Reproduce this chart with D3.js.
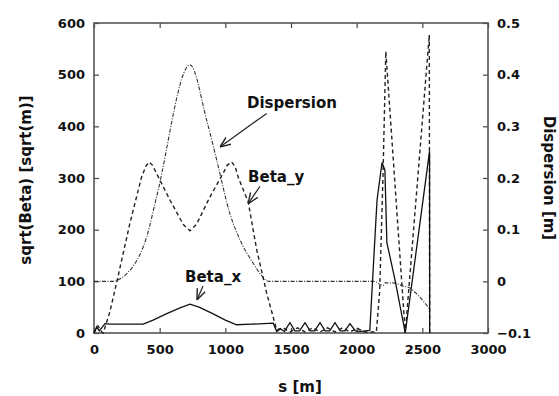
<!DOCTYPE html>
<head>
<meta charset="utf-8">
<script src="https://d3js.org/d3.v7.min.js"></script>
<style>
  body { margin: 0; background: #fff; }
  text { font-family: 'DejaVu Sans', sans-serif; fill: #111; }
</style>
</head>
<body>
<div id="vis"></div>
<script>
// lattice functions along s [m]
const sBetaX = [0, 20, 40, 84, 120, 375, 450, 550, 650, 731, 800, 900, 1000, 1086, 1200, 1365, 1391,
  1420, 1450, 1492, 1530, 1565, 1607, 1645, 1680, 1721, 1760, 1795, 1835, 1875, 1910, 1949, 1990, 2030, 2100,
  2155, 2193, 2215, 2230, 2292, 2370, 2555, 2556]
const betaX = [0, 12, 4, 18, 17, 17, 25, 37, 48, 56, 50, 38, 25, 16, 17, 19, 3,
  8, 3, 20, 4, 4, 20, 4, 4, 20, 4, 4, 20, 4, 4, 18, 4, 3, 5,
  257, 330, 315, 175, 103, 0, 352, 0]

const sBetaY = [0, 30, 60, 70, 120, 172, 274, 360, 395, 420, 445, 470, 579, 680, 731, 780, 880, 983, 1015, 1048, 1075,
  1100, 1174, 1239, 1315, 1391,
  1440, 1492, 1550, 1607, 1664, 1721, 1778, 1835, 1892, 1949, 2006, 2060, 2150, 2175, 2200, 2222, 2370, 2553, 2556]
const betaY = [0, 14, 2, 0, 40, 97, 213, 300, 323, 331, 325, 312, 257, 210, 198, 210, 262, 309, 325, 331, 322,
  300, 254, 161, 77, 6,
  10, 2, 10, 2, 10, 2, 10, 2, 10, 2, 9, 2, 2, 80, 300, 545, 0, 577, 0]

const sDisp = [0, 150, 200, 250, 300, 350, 401, 477, 731, 858, 934, 1036, 1112, 1212, 1280, 1330,
  2130, 2200, 2216, 2277, 2353, 2406, 2460, 2555]
const disp = [0, 0, 0.005, 0.015, 0.03, 0.052, 0.086, 0.164, 0.419, 0.312, 0.235, 0.13, 0.08, 0.035, 0.01, 0,
  0, -0.008, -0.003, -0.003, -0.009, -0.013, -0.025, -0.053]

const sTicks = [0, 500, 1000, 1500, 2000, 2500, 3000]
const betaTicks = [0, 100, 200, 300, 400, 500, 600]
const dispTicks = [-0.1, 0, 0.1, 0.2, 0.3, 0.4, 0.5]

// annotations: label, text anchor (s, beta), arrow from / to (s, beta)
const notes = [
  { label: 'Dispersion', at: [1165, 435], from: [1315, 425], to: [959, 360] },
  { label: 'Beta_y', at: [1173, 292], from: [1264, 284], to: [1173, 250] },
  { label: 'Beta_x', at: [693, 99], from: [830, 91], to: [784, 64] }
]

const width = 559
const height = 396
const margin = { top: 23, right: 71, bottom: 63, left: 94 }

const svg = d3.select('#vis').append('svg')
  .attr('width', width)
  .attr('height', height)

const x = d3.scaleLinear().domain([0, 3000]).range([margin.left, width - margin.right])
const y = d3.scaleLinear().domain([0, 600]).range([height - margin.bottom, margin.top])
const yR = d3.scaleLinear().domain([-0.1, 0.5]).range([height - margin.bottom, margin.top])

svg.append('defs').append('marker')
  .attr('id', 'arr')
  .attr('viewBox', '0 0 10 10')
  .attr('refX', 10).attr('refY', 5)
  .attr('markerWidth', 9).attr('markerHeight', 9)
  .attr('orient', 'auto')
  .append('path')
  .attr('d', 'M0,1 L10,5 L0,9')
  .attr('fill', 'none')
  .attr('stroke', '#222')
  .attr('stroke-width', 1.3)

function axisStyle (g) {
  g.selectAll('.domain').remove()
  g.selectAll('.tick line').attr('stroke', '#444').attr('stroke-width', 1.2)
  g.selectAll('.tick text')
    .style('font-family', "'DejaVu Sans', sans-serif")
    .style('font-size', '13px')
    .style('font-weight', 'bold')
    .attr('fill', '#111')
}

svg.append('g')
  .attr('transform', `translate(0,${height - margin.bottom})`)
  .call(d3.axisBottom(x).tickValues(sTicks).tickSize(-5).tickPadding(12).tickFormat(d3.format('d')))
  .call(axisStyle)

svg.append('g')
  .attr('transform', `translate(0,${margin.top})`)
  .call(d3.axisTop(x).tickValues(sTicks).tickSize(-5).tickFormat(''))
  .call(axisStyle)

svg.append('g')
  .attr('transform', `translate(${margin.left},0)`)
  .call(d3.axisLeft(y).tickValues(betaTicks).tickSize(-5).tickPadding(9))
  .call(axisStyle)

svg.append('g')
  .attr('transform', `translate(${width - margin.right},0)`)
  .call(d3.axisRight(yR).tickValues(dispTicks).tickSize(-5).tickPadding(9).tickFormat(d => d3.format('.1f')(d).replace('-0.0', '0').replace(/^0\.0$/, '0')))
  .call(axisStyle)

// frame
svg.append('rect')
  .attr('x', margin.left)
  .attr('y', margin.top)
  .attr('width', width - margin.left - margin.right)
  .attr('height', height - margin.top - margin.bottom)
  .attr('fill', 'none')
  .attr('stroke', '#555')
  .attr('stroke-width', 1.6)

const plot = svg.append('g')

const lineL = d3.line().x(d => x(d[0])).y(d => y(d[1]))
const lineR = d3.line().x(d => x(d[0])).y(d => yR(d[1])).curve(d3.curveMonotoneX)

plot.append('path')
  .datum(d3.zip(sDisp, disp))
  .attr('d', lineR)
  .attr('fill', 'none')
  .attr('stroke', '#333')
  .attr('stroke-width', 1.1)
  .attr('stroke-dasharray', '4,1.5,1,1.5')

plot.append('path')
  .datum(d3.zip(sBetaY, betaY))
  .attr('d', lineL)
  .attr('fill', 'none')
  .attr('stroke', '#222')
  .attr('stroke-width', 1.4)
  .attr('stroke-dasharray', '4,3')

plot.append('path')
  .datum(d3.zip(sBetaX, betaX))
  .attr('d', lineL)
  .attr('fill', 'none')
  .attr('stroke', '#111')
  .attr('stroke-width', 1.3)

notes.forEach(n => {
  svg.append('text')
    .attr('x', x(n.at[0]))
    .attr('y', y(n.at[1]))
    .style('font-size', '15px')
    .style('font-weight', 'bold')
    .text(n.label)
  svg.append('line')
    .attr('x1', x(n.from[0])).attr('y1', y(n.from[1]))
    .attr('x2', x(n.to[0])).attr('y2', y(n.to[1]))
    .attr('stroke', '#222')
    .attr('stroke-width', 1.2)
    .attr('marker-end', 'url(#arr)')
})

// axis titles
svg.append('text')
  .attr('transform', `translate(31,${(margin.top + height - margin.bottom) / 2 + 2}) rotate(-90)`)
  .attr('text-anchor', 'middle')
  .style('font-size', '15px')
  .style('font-weight', 'bold')
  .text('sqrt(Beta) [sqrt(m)]')

svg.append('text')
  .attr('transform', `translate(544,${(margin.top + height - margin.bottom) / 2}) rotate(90)`)
  .attr('text-anchor', 'middle')
  .style('font-size', '15px')
  .style('font-weight', 'bold')
  .text('Dispersion [m]')

svg.append('text')
  .attr('x', 300)
  .attr('y', 392)
  .attr('text-anchor', 'middle')
  .style('font-size', '15px')
  .style('font-weight', 'bold')
  .text('s [m]')
</script>
</body>
